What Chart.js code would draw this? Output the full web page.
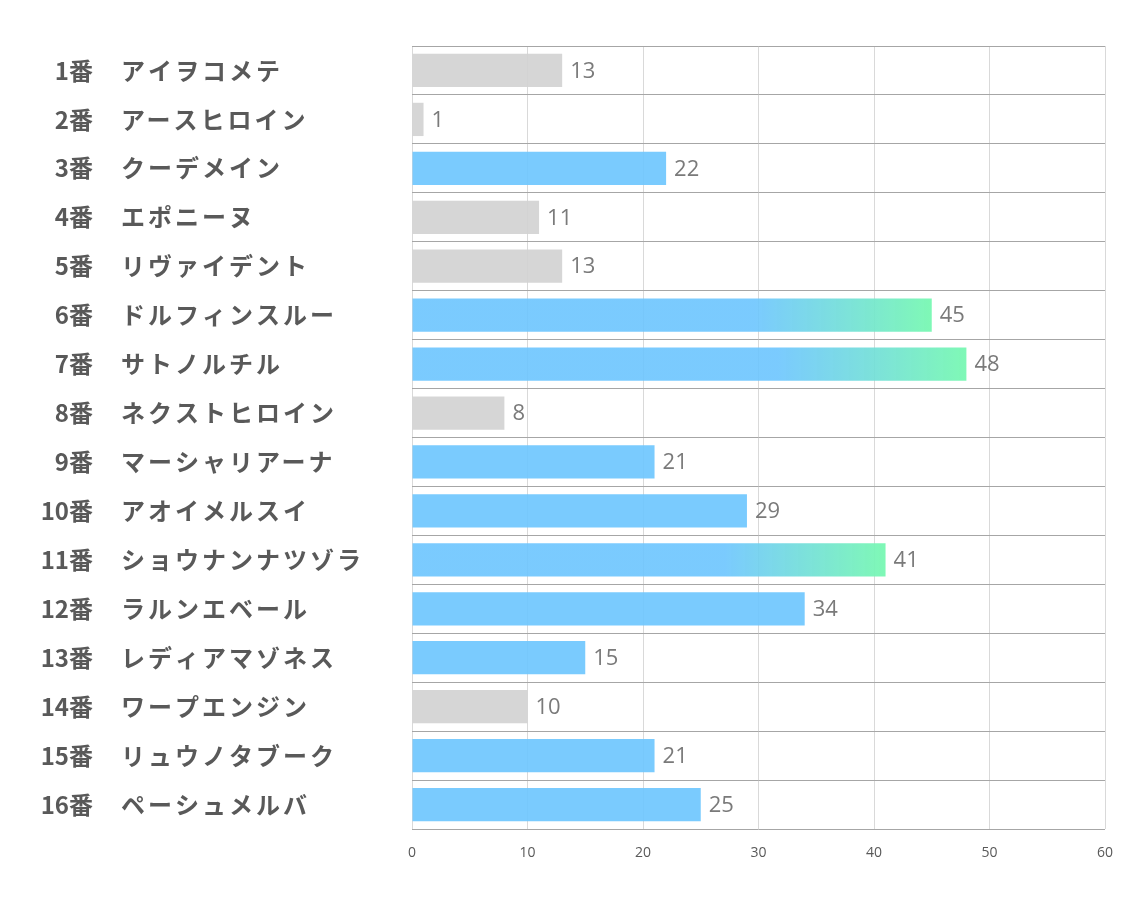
<!DOCTYPE html>
<html>
<head>
<meta charset="utf-8">
<script src="https://cdn.jsdelivr.net/npm/chart.js@4/dist/chart.umd.min.js"></script>
<style>
html,body{margin:0;padding:0;background:#fff;}
#wrap{width:1134px;height:907px;position:relative;}
</style>
</head>
<body>
<div id="wrap"><canvas id="c" width="1134" height="907"></canvas></div>
<script>
const numbers = ["1番","2番","3番","4番","5番","6番","7番","8番","9番","10番","11番","12番","13番","14番","15番","16番"];
const names = ["アイヲコメテ","アースヒロイン","クーデメイン","エポニーヌ","リヴァイデント","ドルフィンスルー","サトノルチル","ネクストヒロイン","マーシャリアーナ","アオイメルスイ","ショウナンナツゾラ","ラルンエベール","レディアマゾネス","ワープエンジン","リュウノタブーク","ペーシュメルバ"];
const values = [13,1,22,11,13,45,48,8,21,29,41,34,15,10,21,25];
const kinds = ["gray","gray","blue","gray","gray","grad","grad","gray","blue","blue","grad","blue","blue","gray","blue","blue"];
const xTicks = [0,10,20,30,40,50,60];

const GRAY = 'rgba(210,210,210,0.9)';
const BLUE = 'rgba(108,197,254,0.9)';
const GREEN = 'rgba(120,248,178,0.95)';

function barColor(ctx){
  const i = ctx.dataIndex;
  const k = kinds[i];
  if (k === 'gray') return GRAY;
  if (k === 'blue') return BLUE;
  const chart = ctx.chart;
  const xs = chart.scales.x;
  if (!xs || !chart.chartArea) return BLUE;
  const x0 = xs.getPixelForValue(0);
  const x1 = xs.getPixelForValue(values[i]);
  const g = chart.ctx.createLinearGradient(x0, 0, x1, 0);
  g.addColorStop(0, BLUE);
  g.addColorStop(0.66, BLUE);
  g.addColorStop(1, GREEN);
  return g;
}

const labelPlugin = {
  id: 'labels',
  afterDraw(chart){
    const c = chart.ctx;
    const ys = chart.scales.y, xs = chart.scales.x;
    c.save();
    c.textBaseline = 'middle';
    for (let i = 0; i < names.length; i++){
      const y = ys.getPixelForValue(i);
      c.fillStyle = '#595959';
      c.font = 'bold 24px "Noto Sans CJK JP"';
      c.letterSpacing = '0px';
      c.textAlign = 'right';
      c.fillText(numbers[i], 93, y);
      c.textAlign = 'left';
      c.letterSpacing = '3px';
      c.fillText(names[i], 121, y);
      c.letterSpacing = '0px';
      c.font = '22px "Open Sans"';
      c.fillStyle = '#7a7a7a';
      c.fillText(String(values[i]), xs.getPixelForValue(values[i]) + 8, y + 1);
    }
    c.restore();
  }
};

new Chart(document.getElementById('c'), {
  type: 'bar',
  data: {
    labels: names,
    datasets: [{
      data: values,
      backgroundColor: barColor,
      borderWidth: 0,
      barPercentage: 0.68,
      categoryPercentage: 1.0
    }]
  },
  options: {
    indexAxis: 'y',
    responsive: false,
    animation: false,
    layout: { padding: { top: 46, right: 29, left: 0, bottom: 0 } },
    plugins: { legend: { display: false }, tooltip: { enabled: false } },
    scales: {
      x: {
        min: 0, max: 60,
        afterBuildTicks(scale){ scale.ticks = xTicks.map(v => ({value: v})); },
        afterFit(scale){ scale.height = 78; },
        grid: { color: '#d9d9d9', lineWidth: 1, drawTicks: false },
        border: { display: false },
        ticks: { color: '#595959', font: { size: 14, family: '"Open Sans"' }, padding: 16 }
      },
      y: {
        afterFit(scale){ scale.width = 412; },
        grid: { color: '#a6a6a6', lineWidth: 1, drawTicks: false, offset: true },
        border: { display: false },
        ticks: { display: false }
      }
    }
  },
  plugins: [labelPlugin]
});
</script>
</body>
</html>
